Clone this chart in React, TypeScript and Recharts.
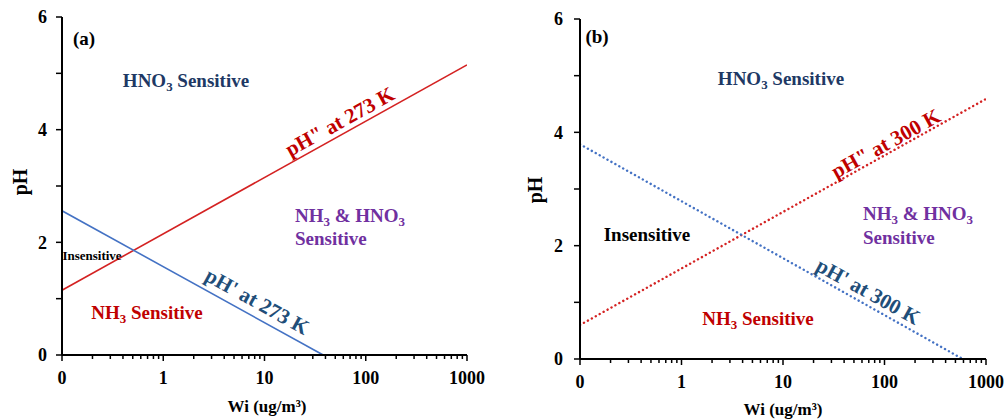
import type { CSSProperties, ReactNode } from 'react';
import { LineChart, Line, XAxis, YAxis } from 'recharts';

// x axis is Wi on a log scale; the "0" tick sits at 0.1
const wiMajorTicks = [0.1, 1, 10, 100, 1000];
const wiMinorTicks = [
  0.2, 0.3, 0.4, 0.5, 0.6, 0.7, 0.8, 0.9,
  2, 3, 4, 5, 6, 7, 8, 9,
  20, 30, 40, 50, 60, 70, 80, 90,
  200, 300, 400, 500, 600, 700, 800, 900,
];
const phTicks = [0, 1, 2, 3, 4, 5, 6];

// panel (a): 273 K
const wiUpper273 = [0.1, 1000];
const phUpper273 = [1.15, 5.15];
const wiLower273 = [0.1, 38];
const phLower273 = [2.56, 0];

// panel (b): 300 K
const wiUpper300 = [0.1, 1000];
const phUpper300 = [0.6, 4.59];
const wiLower300 = [0.1, 590];
const phLower300 = [3.79, 0];

const FONT = '"Liberation Serif", "Times New Roman", serif';
const RED_LINE = '#d42222';
const BLUE_LINE = '#4472c4';
const RED_TEXT = '#c00000';
const BLUE_TEXT = '#1f4e79';
const NAVY_TEXT = '#203864';
const PURPLE_TEXT = '#7030a0';

type Row = { wi: number; ph: number };
const toRows = (wi: number[], ph: number[]): Row[] => wi.map((w, i) => ({ wi: w, ph: ph[i] }));

const XTick = (props: any) => {
  const { x, y, payload } = props;
  const major = wiMajorTicks.includes(payload.value);
  return (
    <g>
      <line x1={x} y1={y} x2={x} y2={y + (major ? 6 : 4)} stroke="#000" strokeWidth={1.5} />
      {major && (
        <text
          x={x}
          y={y + 23}
          textAnchor="middle"
          dominantBaseline="central"
          fontSize={18}
          fontWeight="bold"
          fontFamily={FONT}
          fill="#000"
        >
          {payload.value === 0.1 ? '0' : payload.value}
        </text>
      )}
    </g>
  );
};

interface PanelProps {
  left: number;
  width: number;
  margin: { top: number; right: number; bottom: number; left: number };
  yTickMargin: number;
  upper: Row[];
  lower: Row[];
  dotted?: boolean;
}

const Panel = ({ left, width, margin, yTickMargin, upper, lower, dotted }: PanelProps) => {
  const dash = dotted ? '0.1 4.4' : undefined;
  const lw = dotted ? 2.4 : 1.6;
  return (
    <div style={{ position: 'absolute', left, top: 0 }}>
      <LineChart width={width} height={420} margin={margin}>
        <XAxis
          dataKey="wi"
          type="number"
          scale="log"
          domain={[0.1, 1000]}
          allowDataOverflow
          ticks={[...wiMajorTicks, ...wiMinorTicks]}
          interval={0}
          height={30}
          tickSize={0}
          tickMargin={0}
          tickLine={false}
          tick={<XTick />}
          axisLine={{ stroke: '#000', strokeWidth: 2 }}
        />
        <XAxis
          xAxisId="top"
          orientation="top"
          dataKey="wi"
          type="number"
          scale="log"
          domain={[0.1, 1000]}
          allowDataOverflow
          height={0}
          tick={false}
          tickLine={false}
          axisLine={{ stroke: '#555', strokeWidth: 1.5 }}
        />
        <YAxis
          type="number"
          domain={[0, 6]}
          ticks={phTicks}
          interval={0}
          width={44}
          tickSize={6}
          tickMargin={yTickMargin}
          tickFormatter={(v: number) => (v % 2 === 0 ? String(v) : '')}
          tick={{ fontSize: 18, fontWeight: 'bold', fontFamily: FONT, fill: '#000' }}
          tickLine={{ stroke: '#000', strokeWidth: 1.5 }}
          axisLine={{ stroke: '#000', strokeWidth: 2 }}
        />
        <YAxis
          yAxisId="right"
          orientation="right"
          type="number"
          domain={[0, 6]}
          width={0}
          tick={false}
          tickLine={false}
          axisLine={{ stroke: '#555', strokeWidth: 1.5 }}
        />
        <Line
          data={upper}
          dataKey="ph"
          type="linear"
          stroke={RED_LINE}
          strokeWidth={lw}
          strokeDasharray={dash}
          strokeLinecap={dotted ? 'round' : 'butt'}
          dot={false}
          isAnimationActive={false}
        />
        <Line
          data={lower}
          dataKey="ph"
          type="linear"
          stroke={BLUE_LINE}
          strokeWidth={lw}
          strokeDasharray={dash}
          strokeLinecap={dotted ? 'round' : 'butt'}
          dot={false}
          isAnimationActive={false}
        />
      </LineChart>
    </div>
  );
};

const Sub = ({ children }: { children: ReactNode }) => (
  <span style={{ fontSize: '0.68em', position: 'relative', top: '0.3em' }}>{children}</span>
);

interface NoteProps {
  x: number;
  y: number;
  color?: string;
  size?: number;
  rotate?: number;
  anchor?: 'start' | 'middle';
  children: ReactNode;
}

const Note = ({ x, y, color = '#000', size = 19, rotate = 0, anchor = 'middle', children }: NoteProps) => {
  const style: CSSProperties = {
    position: 'absolute',
    left: x,
    top: y,
    color,
    fontSize: size,
    fontWeight: 'bold',
    fontFamily: FONT,
    lineHeight: 1,
    whiteSpace: 'nowrap',
    transform: `translate(${anchor === 'middle' ? '-50%' : '0'}, -50%) rotate(${rotate}deg)`,
    transformOrigin: anchor === 'middle' ? 'center' : 'left center',
  };
  return <div style={style}>{children}</div>;
};

export default function App() {
  return (
    <div
      style={{
        position: 'absolute',
        left: 0,
        top: 0,
        width: 1008,
        height: 420,
        background: '#fff',
        overflow: 'hidden',
        fontFamily: FONT,
      }}
    >
      <Panel
        left={0}
        width={500}
        margin={{ top: 17, right: 33, bottom: 35, left: 18 }}
        yTickMargin={9}
        upper={toRows(wiUpper273, phUpper273)}
        lower={toRows(wiLower273, phLower273)}
      />
      <Panel
        left={500}
        width={508}
        margin={{ top: 19, right: 22, bottom: 31, left: 36 }}
        yTickMargin={11}
        upper={toRows(wiUpper300, phUpper300)}
        lower={toRows(wiLower300, phLower300)}
        dotted
      />

      {/* axis titles */}
      <Note x={20} y={182} size={20} rotate={-90}>pH</Note>
      <Note x={267} y={406} size={17}>Wi (ug/m³)</Note>
      <Note x={535} y={190} size={20} rotate={-90}>pH</Note>
      <Note x={783} y={409} size={17}>Wi (ug/m³)</Note>

      {/* panel (a) notes */}
      <Note x={84} y={38}>(a)</Note>
      <Note x={186} y={80} color={NAVY_TEXT}>HNO<Sub>3</Sub> Sensitive</Note>
      <Note x={340} y={122} color={RED_TEXT} size={21} rotate={-29}>pH" at 273 K</Note>
      <Note x={92} y={255} size={13}>Insensitive</Note>
      <Note x={147} y={312} color={RED_TEXT}>NH<Sub>3</Sub> Sensitive</Note>
      <Note x={257} y={302} color={BLUE_TEXT} size={21} rotate={29}>pH' at 273 K</Note>
      <Note x={295} y={215} color={PURPLE_TEXT} anchor="start">NH<Sub>3</Sub> &amp; HNO<Sub>3</Sub></Note>
      <Note x={295} y={238} color={PURPLE_TEXT} anchor="start">Sensitive</Note>

      {/* panel (b) notes */}
      <Note x={597} y={36}>(b)</Note>
      <Note x={781} y={78} color={NAVY_TEXT}>HNO<Sub>3</Sub> Sensitive</Note>
      <Note x={886} y={144} color={RED_TEXT} size={21} rotate={-29}>pH" at 300 K</Note>
      <Note x={647} y={234}>Insensitive</Note>
      <Note x={758} y={318} color={RED_TEXT}>NH<Sub>3</Sub> Sensitive</Note>
      <Note x={868} y={292} color={BLUE_TEXT} size={21} rotate={29}>pH' at 300 K</Note>
      <Note x={863} y={213} color={PURPLE_TEXT} anchor="start">NH<Sub>3</Sub> &amp; HNO<Sub>3</Sub></Note>
      <Note x={863} y={237} color={PURPLE_TEXT} anchor="start">Sensitive</Note>
    </div>
  );
}
